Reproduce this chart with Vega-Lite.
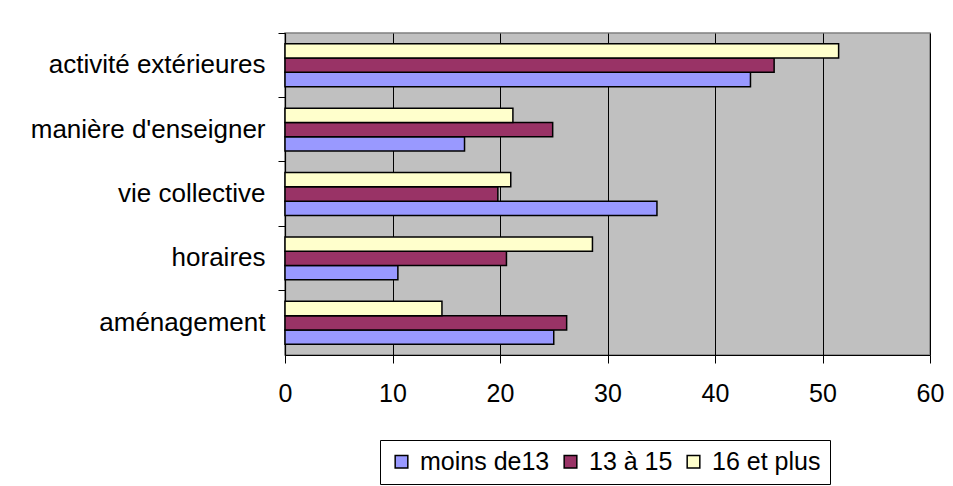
{
  "$schema": "https://vega.github.io/schema/vega-lite/v6.json",
  "autosize": {"type": "none"},
  "padding": {"left": 285, "top": 33, "right": 23, "bottom": 131},
  "width": 645,
  "height": 322,
  "background": "white",
  "config": {
    "font": "Liberation Sans",
    "view": {"fill": "#C0C0C0", "stroke": "#808080", "strokeWidth": 1.5}
  },
  "data": {
    "values": [
      {"cat": "activité extérieures", "s": "moins de13", "v": 43.3},
      {"cat": "activité extérieures", "s": "13 à 15", "v": 45.5},
      {"cat": "activité extérieures", "s": "16 et plus", "v": 51.5},
      {"cat": "manière d'enseigner", "s": "moins de13", "v": 16.7},
      {"cat": "manière d'enseigner", "s": "13 à 15", "v": 24.9},
      {"cat": "manière d'enseigner", "s": "16 et plus", "v": 21.2},
      {"cat": "vie collective", "s": "moins de13", "v": 34.6},
      {"cat": "vie collective", "s": "13 à 15", "v": 19.8},
      {"cat": "vie collective", "s": "16 et plus", "v": 21.0},
      {"cat": "horaires", "s": "moins de13", "v": 10.5},
      {"cat": "horaires", "s": "13 à 15", "v": 20.6},
      {"cat": "horaires", "s": "16 et plus", "v": 28.6},
      {"cat": "aménagement", "s": "moins de13", "v": 25.0},
      {"cat": "aménagement", "s": "13 à 15", "v": 26.2},
      {"cat": "aménagement", "s": "16 et plus", "v": 14.6}
    ]
  },
  "mark": {"type": "bar", "stroke": "black", "strokeWidth": 1.5},
  "encoding": {
    "y": {
      "field": "cat",
      "type": "nominal",
      "sort": ["activité extérieures", "manière d'enseigner", "vie collective", "horaires", "aménagement"],
      "scale": {"paddingInner": 0, "paddingOuter": 0},
      "axis": {
        "title": null,
        "labelFontSize": 26,
        "labelLimit": 0,
        "labelColor": "black",
        "labelPadding": 13,
        "domainColor": "black",
        "domainWidth": 1.2,
        "tickColor": "black",
        "tickSize": 7,
        "bandPosition": 0,
        "grid": false
      }
    },
    "x": {
      "field": "v",
      "type": "quantitative",
      "scale": {"domain": [0, 60]},
      "axis": {
        "title": null,
        "values": [0, 10, 20, 30, 40, 50, 60],
        "grid": true,
        "gridColor": "black",
        "gridOpacity": 1,
        "gridWidth": 1,
        "tickColor": "black",
        "tickSize": 8,
        "domainColor": "black",
        "domainWidth": 1.2,
        "labelFontSize": 25,
        "labelPadding": 18,
        "labelColor": "black",
        "labelFlush": false
      }
    },
    "yOffset": {
      "field": "s",
      "sort": ["16 et plus", "13 à 15", "moins de13"],
      "scale": {"paddingInner": 0, "paddingOuter": 0.75}
    },
    "color": {
      "field": "s",
      "type": "nominal",
      "sort": ["moins de13", "13 à 15", "16 et plus"],
      "scale": {
        "domain": ["moins de13", "13 à 15", "16 et plus"],
        "range": ["#9999FF", "#993366", "#FFFFCC"]
      },
      "legend": {
        "title": null,
        "orient": "none",
        "legendX": 95,
        "legendY": 407,
        "direction": "horizontal",
        "strokeColor": "black",
        "fillColor": "white",
        "padding": 9,
        "labelFontSize": 25,
        "labelColor": "black",
        "labelOffset": 6,
        "labelLimit": 0,
        "columnPadding": 8,
        "symbolType": "square",
        "symbolSize": 160,
        "symbolStrokeColor": "black",
        "symbolStrokeWidth": 1.5
      }
    }
  }
}
